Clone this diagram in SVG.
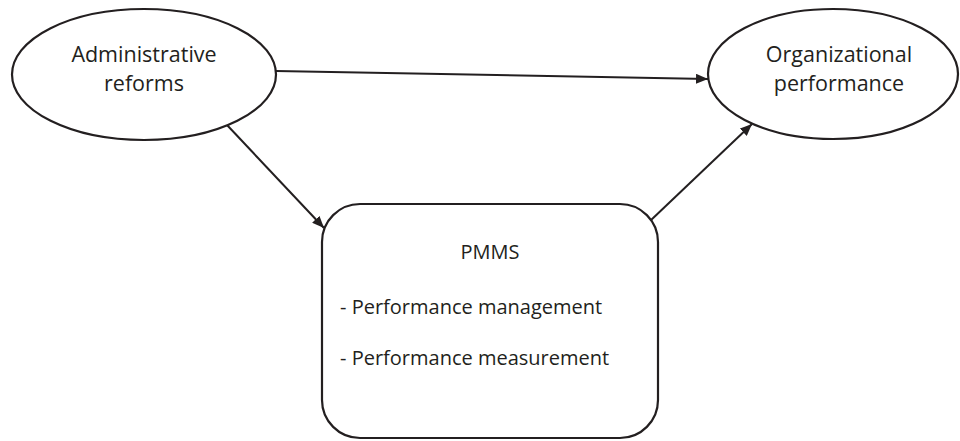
<svg xmlns="http://www.w3.org/2000/svg" width="960" height="441" viewBox="0 0 960 441">
<style>
.shape{fill:#fff;stroke:#231f20;stroke-width:2.2}
.conn{stroke:#231f20;stroke-width:2;fill:none;marker-end:url(#arr)}
text{font-family:"Open Sans","Liberation Sans",sans-serif;font-size:20px;fill:#231f20}
.big{font-size:21.5px}
.c{text-anchor:middle}
</style>
<defs>
<marker id="arr" viewBox="0 0 12 10" refX="12" refY="5" markerWidth="12" markerHeight="10" markerUnits="userSpaceOnUse" orient="auto">
<path d="M0,0 L12,5 L0,10 z" fill="#231f20"/>
</marker>
</defs>
<g id="connectors">
<line class="conn" x1="276" y1="71" x2="708" y2="79"/>
<line class="conn" x1="227" y1="125" x2="324" y2="228"/>
<line class="conn" x1="650" y1="221" x2="752" y2="124"/>
</g>
<g id="admin">
<ellipse class="shape" cx="144" cy="74.5" rx="132" ry="65.5"/>
<text class="c big" x="144" y="62">Administrative</text>
<text class="c big" x="144" y="91">reforms</text>
</g>
<g id="org">
<ellipse class="shape" cx="833" cy="74" rx="125" ry="65"/>
<text class="c big" x="839" y="62">Organizational</text>
<text class="c big" x="839" y="91">performance</text>
</g>
<g id="pmms">
<rect class="shape" x="322" y="204" width="336" height="234" rx="38" ry="38"/>
<text class="c" x="490" y="259">PMMS</text>
<text x="340" y="314">- Performance management</text>
<text x="340" y="365">- Performance measurement</text>
</g>
</svg>
